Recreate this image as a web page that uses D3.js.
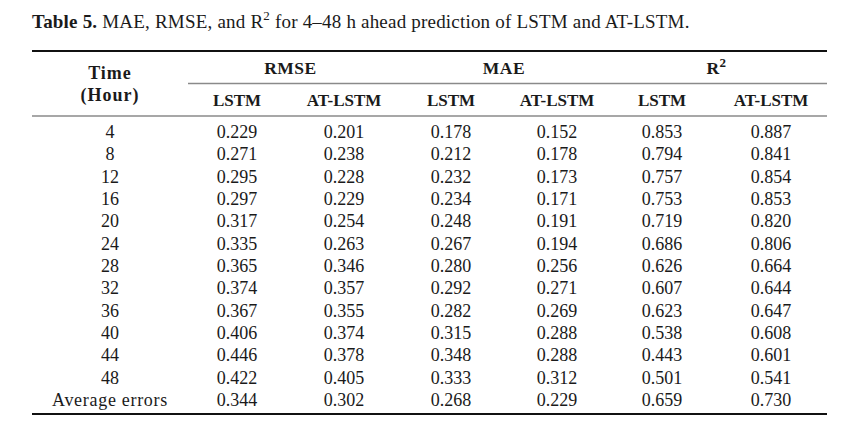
<!DOCTYPE html>
<html><head><meta charset="utf-8">
<script src="https://cdn.jsdelivr.net/npm/d3@7"></script>
<style>
html,body{margin:0;padding:0;background:#fff;}
svg text{font-family:"Liberation Serif","Times New Roman",serif;fill:#1a1a1a;}
</style></head>
<body><svg id="c" width="865" height="436"></svg>
<script>
const hours = ["4","8","12","16","20","24","28","32","36","40","44","48","Average errors"];
const rmseLSTM = ["0.229","0.271","0.295","0.297","0.317","0.335","0.365","0.374","0.367","0.406","0.446","0.422","0.344"];
const rmseAT   = ["0.201","0.238","0.228","0.229","0.254","0.263","0.346","0.357","0.355","0.374","0.378","0.405","0.302"];
const maeLSTM  = ["0.178","0.212","0.232","0.234","0.248","0.267","0.280","0.292","0.282","0.315","0.348","0.333","0.268"];
const maeAT    = ["0.152","0.178","0.173","0.171","0.191","0.194","0.256","0.271","0.269","0.288","0.288","0.312","0.229"];
const r2LSTM   = ["0.853","0.794","0.757","0.753","0.719","0.686","0.626","0.607","0.623","0.538","0.443","0.501","0.659"];
const r2AT     = ["0.887","0.841","0.854","0.853","0.820","0.806","0.664","0.644","0.647","0.608","0.601","0.541","0.730"];
const columns = ["time","rmseLSTM","rmseAT","maeLSTM","maeAT","r2LSTM","r2AT"];
const subHeaders = ["LSTM","AT-LSTM","LSTM","AT-LSTM","LSTM","AT-LSTM"];
const groups = [{name:"RMSE",cols:["rmseLSTM","rmseAT"]},{name:"MAE",cols:["maeLSTM","maeAT"]},{name:"R",sup:"2",cols:["r2LSTM","r2AT"]}];

const series = {rmseLSTM, rmseAT, maeLSTM, maeAT, r2LSTM, r2AT};
const svg = d3.select("#c");

const x = d3.scaleOrdinal().domain(columns).range([110,237,344,451,557,662,771]);
const y = d3.scalePoint().domain(d3.range(hours.length)).range([138,406]);

// title
const t = svg.append("text").attr("x",32).attr("y",28).attr("font-size",19).attr("letter-spacing",0.2);
t.append("tspan").attr("font-weight","bold").text("Table 5.");
t.append("tspan").text(" MAE, RMSE, and R");
t.append("tspan").attr("font-size",13).attr("dy",-8).text("2");
t.append("tspan").attr("dy",8).text(" for 4\u201348 h ahead prediction of LSTM and AT-LSTM.");

// rules
svg.append("line").attr("x1",32).attr("x2",827).attr("y1",51).attr("y2",51).attr("stroke","#111").attr("stroke-width",2);
svg.append("line").attr("x1",188).attr("x2",827).attr("y1",83.5).attr("y2",83.5).attr("stroke","#8a8a8a").attr("stroke-width",1.5);
svg.append("line").attr("x1",32).attr("x2",827).attr("y1",116).attr("y2",116).attr("stroke","#8a8a8a").attr("stroke-width",1.5);
svg.append("line").attr("x1",32).attr("x2",827).attr("y1",414).attr("y2",414).attr("stroke","#111").attr("stroke-width",2);

// header
svg.append("text").attr("x",x("time")).attr("y",79).attr("text-anchor","middle").attr("font-weight","bold").attr("font-size",18).attr("letter-spacing",1).text("Time");
svg.append("text").attr("x",x("time")).attr("y",101).attr("text-anchor","middle").attr("font-weight","bold").attr("font-size",18).attr("letter-spacing",1).text("(Hour)");

groups.forEach(g=>{
  const cx = (x(g.cols[0])+x(g.cols[1]))/2;
  const gt = svg.append("text").attr("x",cx).attr("y",74).attr("text-anchor","middle").attr("font-weight","bold").attr("font-size",17.5).attr("letter-spacing",0.5);
  gt.append("tspan").text(g.name);
  if (g.sup) gt.append("tspan").attr("font-size",13).attr("dy",-7).text(g.sup);
});

svg.selectAll("text.sub").data(subHeaders).enter().append("text").attr("class","sub")
  .attr("x",(d,i)=>x(columns[i+1])).attr("y",106).attr("text-anchor","middle")
  .attr("font-weight","bold").attr("font-size",17).text(d=>d);

// body
svg.selectAll("text.hour").data(hours).enter().append("text").attr("class","hour")
  .attr("x",x("time")).attr("y",(d,i)=>y(i)).attr("text-anchor","middle").attr("font-size",18)
  .attr("letter-spacing",d=>d.length>3?0.7:0).text(d=>d);

columns.slice(1).forEach(c=>{
  svg.selectAll("text."+c).data(series[c]).enter().append("text").attr("class",c)
    .attr("x",x(c)).attr("y",(d,i)=>y(i)).attr("text-anchor","middle").attr("font-size",18).text(d=>d);
});
</script></body></html>
